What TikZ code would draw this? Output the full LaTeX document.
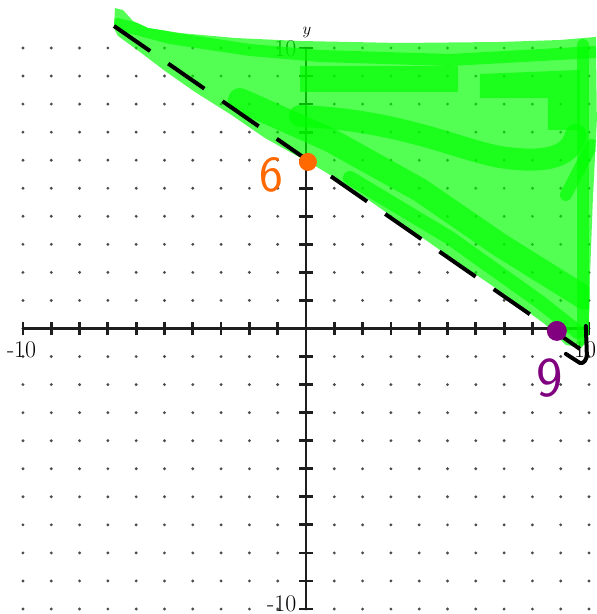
\documentclass[tikz,border=0pt]{standalone}
\usepackage{amssymb,amsmath}
\usepackage{tikz}
\usepackage{color}
\definecolor{handorange}{RGB}{255,105,0}
\definecolor{handpurple}{RGB}{128,0,128}
\definecolor{axisgray}{RGB}{30,30,30}
\definecolor{dotgray}{RGB}{75,75,75}
\newcommand{\drawdot}[2]{%
	\fill[dotgray] (#1,#2) circle (0.04cm);
}
\newcommand{\drawtick}[1]{%
	\draw[axisgray, line width=0.07cm] (#1,0) ++(0pt,-0.17cm) -- ++(0pt,0.34cm);
	\draw[axisgray, line width=0.07cm] (0,#1) ++(-0.17cm,0pt) -- ++(0.34cm,0pt);
}
\newcommand{\highlight}[2]{%
	\draw[green, opacity=0.67, line width=#1*0.025cm, line cap=round, line join=round] #2;
}
\newcommand{\greenpath}{(115,8) -- (123,10) -- (133,21) -- (148,28) -- (180,33) -- (235,38) -- (300,41) -- (400,43) -- (500,42) -- (560,40) -- (596,37) -- (597,120) -- (593,200) -- (590,280) -- (589,335) -- (582,348) -- (566,345) -- (546,325) -- (500,291) -- (450,257) -- (400,222) -- (350,187) -- (312,164) -- (290,152) -- (265,138) -- (230,114) -- (195,92) -- (165,71) -- (140,52) -- (118,36) -- (114,28) -- cycle}
\tikzset{
	axislabel/.style={font=\fontsize{17}{20}\selectfont, inner sep=0pt},
	handlabel/.style={font=\fontsize{#1}{#1}\selectfont\sffamily, inner sep=0pt},
	handdot/.style={circle, fill=#1, inner sep=0pt}
}

\begin{document}
\begin{tikzpicture}[x=0.7075cm, y=0.70125cm]
	\useasboundingbox (-10.8127,11.7112) rectangle (10.2827,-10.1783);
	\pgfmathtruncatemacro{\nnn}{10}
	\foreach \x in {-\nnn,...,\nnn}{
		\foreach \y in {-\nnn,...,\nnn}{
			\drawdot{\x}{\y}}}
	\draw[axisgray, line width=0.065cm] (-\nnn,0) -- (\nnn,0);
	\draw[axisgray, line width=0.065cm] (0,-\nnn) -- (0,\nnn);
	\foreach \t in {-\nnn,...,\nnn}{
		\drawtick{\t}}
	\node[axislabel] (xmin) at (-10.05,-0.77) {-10};
	\node[axislabel] (xmax) at (9.86,-0.77) {10};
	\node[axislabel, anchor=east] (ymax) at (-0.33,9.98) {10};
	\node[axislabel, anchor=east] (ymin) at (-0.33,-9.8) {-10};
	\node[font=\fontsize{12}{14}\selectfont, inner sep=0pt] (ylab) at (0.03,10.55) {$y$};
	\begin{scope}[shift={(-10.8127,11.7112)}, x=0.025cm, y=-0.025cm]
		\fill[green, opacity=0.67] \greenpath;
		\begin{scope}
			\clip \greenpath;
			\highlight{12}{(118,24) -- (170,38) -- (250,50) -- (320,56) -- (450,60) -- (596,52)}
			\fill[green, opacity=0.67] (300,66) rectangle (458,92);
			\fill[green, opacity=0.67] (480,74) -- (580,70) -- (580,130) -- (548,130) -- (548,98) -- (480,98) -- cycle;
			\highlight{22}{(300,116) .. controls (400,120) and (460,150) .. (500,157) .. controls (540,163) and (570,160) .. (576,135)}
			\highlight{24}{(240,100) -- (330,140) -- (420,190) -- (500,245) -- (585,298)}
			\highlight{14}{(350,178) -- (450,238) -- (540,302) -- (578,332)}
			\highlight{12}{(583,45) -- (583,340)}
			\highlight{12}{(592,145) -- (566,195)}
		\end{scope}
		\coordinate (lstart) at (114,26);
		\coordinate (ltip) at (580,349);
		\draw[black, line width=0.1cm, dash pattern=on 1.1cm off 0.55cm] (lstart) -- (ltip);
		\draw[black, line width=0.1cm, line cap=round, line join=round] (586,326) -- (587,355) to[out=-90, in=-20] (580,363) -- (566,354);
		\node[handdot=handorange, minimum size=0.45cm] (pt6) at (308,162) {};
		\node[handdot=handpurple, minimum size=0.5cm] (pt9) at (557,331) {};
		\node[handlabel=36, text=handorange] (lab6) at (271,175) {6};
		\node[handlabel=40, text=handpurple] (lab9) at (550,378) {9};
	\end{scope}
\end{tikzpicture}
\end{document}
